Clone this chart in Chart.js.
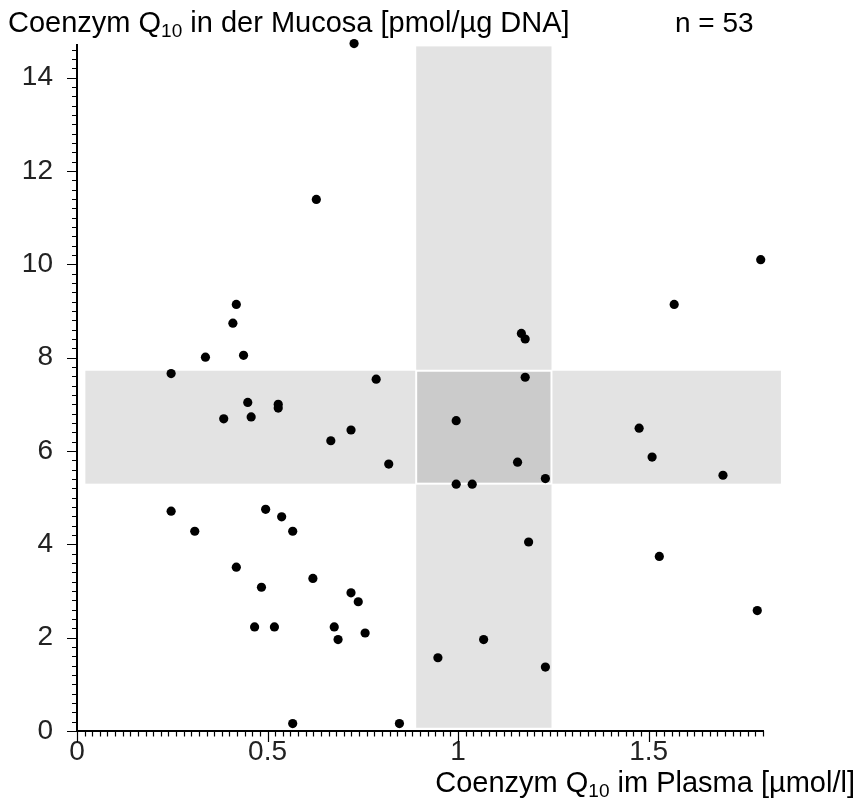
<!DOCTYPE html>
<html>
<head>
<meta charset="utf-8">
<script src="https://cdn.jsdelivr.net/npm/chart.js@4.4.1/dist/chart.umd.min.js"></script>
<style>
  html, body { margin: 0; padding: 0; background: #fff; }
  #wrap { width: 858px; height: 811px; position: relative; }
</style>
</head>
<body>
<div id="wrap"><canvas id="chart" width="858" height="811"></canvas></div>
<script>
// Coenzym Q10 im Plasma [µmol/l] (x) vs. in der Mucosa [pmol/µg DNA] (y)
const plasma = [
  0.727, 0.628, 0.418, 0.409, 0.337, 0.437, 0.247, 0.785,
  1.794, 1.567, 1.166, 1.176, 1.176,
  0.448, 0.528, 0.528, 0.385, 0.457, 0.719, 0.666, 0.818,
  0.247, 0.495, 0.537, 0.309, 0.566, 0.418, 0.619, 0.484,
  0.719, 0.738, 0.466, 0.518, 0.675, 0.756, 0.685, 0.566, 0.846,
  0.995, 1.156, 1.229, 0.995, 1.037, 1.475, 1.509, 1.695,
  1.185, 1.528, 1.785, 1.067, 0.947, 1.229
];
const mucosa = [
  14.73, 11.39, 9.14, 8.74, 8.01, 8.05, 7.66, 7.54,
  10.10, 9.14, 8.52, 8.40, 7.58,
  7.04, 7.00, 6.92, 6.69, 6.73, 6.45, 6.22, 5.72,
  4.71, 4.75, 4.59, 4.28, 4.28, 3.51, 3.27, 3.08,
  2.96, 2.77, 2.23, 2.23, 2.23, 2.10, 1.96, 0.16, 0.16,
  6.65, 5.76, 5.41, 5.29, 5.29, 6.49, 5.87, 5.48,
  4.05, 3.74, 2.58, 1.96, 1.57, 1.37
];
const nLabel = 'n = 53';

// reference ranges (shaded bands)
const plasmaRange = [0.89, 1.245];
const mucosaRange = [5.3, 7.72];

const FONT = '"Liberation Sans", Arial, Helvetica, sans-serif';

const points = plasma.map((x, i) => ({ x: x, y: mucosa[i] }));

function drawRich(ctx, parts, x, y, align) {
  let total = 0;
  parts.forEach(p => {
    ctx.font = (p[1] ? 19 : 29) + 'px ' + FONT;
    total += ctx.measureText(p[0]).width;
  });
  let cx = align === 'right' ? x - total : x;
  ctx.textAlign = 'left';
  ctx.textBaseline = 'alphabetic';
  parts.forEach(p => {
    ctx.font = (p[1] ? 19 : 29) + 'px ' + FONT;
    ctx.fillText(p[0], cx, p[1] ? y + 5 : y);
    cx += ctx.measureText(p[0]).width;
  });
}

const bandsPlugin = {
  id: 'bands',
  beforeDatasetsDraw(chart) {
    const { ctx, scales: { x, y } } = chart;
    const x0 = x.getPixelForValue(plasmaRange[0]), x1 = x.getPixelForValue(plasmaRange[1]);
    const y0 = y.getPixelForValue(mucosaRange[0]), y1 = y.getPixelForValue(mucosaRange[1]);
    ctx.save();
    ctx.fillStyle = '#e3e3e3';
    // horizontal band
    ctx.fillRect(x.getPixelForValue(0.022), y1, x.getPixelForValue(1.847) - x.getPixelForValue(0.022), y0 - y1);
    // vertical band
    ctx.fillRect(x0, y.getPixelForValue(14.67), x1 - x0, y.getPixelForValue(0.07) - y.getPixelForValue(14.67));
    // overlap
    ctx.fillStyle = '#cbcbcb';
    ctx.fillRect(x0, y1, x1 - x0, y0 - y1);
    ctx.strokeStyle = '#ffffff';
    ctx.lineWidth = 2;
    ctx.strokeRect(x0, y1, x1 - x0, y0 - y1);
    ctx.restore();
  }
};

const ticksPlugin = {
  id: 'axisTicks',
  afterDraw(chart) {
    const { ctx, scales: { x, y }, chartArea } = chart;
    ctx.save();
    ctx.strokeStyle = '#000';
    ctx.lineWidth = 1.2;
    ctx.beginPath();
    for (let i = 0; i <= 90; i++) {
      const v = i * 0.02;
      const px = Math.round(x.getPixelForValue(v)) + 0.5;
      const len = i % 25 === 0 ? 11 : 5.5;
      ctx.moveTo(px, chartArea.bottom);
      ctx.lineTo(px, chartArea.bottom + len);
    }
    for (let i = 0; i <= 73; i++) {
      const v = i * 0.2;
      const py = Math.round(y.getPixelForValue(v)) + 0.5;
      const len = i % 10 === 0 ? 10 : 5;
      ctx.moveTo(chartArea.left, py);
      ctx.lineTo(chartArea.left - len, py);
    }
    ctx.stroke();

    ctx.fillStyle = '#000';
    drawRich(ctx, [['Coenzym Q', false], ['10', true], [' in der Mucosa [pmol/\u00b5g DNA]', false]], 8, 32, 'left');
    ctx.font = '28px ' + FONT;
    ctx.fillText(nLabel, 675, 32);
    drawRich(ctx, [['Coenzym Q', false], ['10', true], [' im Plasma [\u00b5mol/l]', false]], 855, 792, 'right');
    ctx.restore();
  }
};

new Chart(document.getElementById('chart'), {
  type: 'scatter',
  data: {
    datasets: [{
      data: points,
      backgroundColor: '#000',
      borderWidth: 0,
      pointRadius: 4.6,
      pointHoverRadius: 4.6,
      clip: false
    }]
  },
  options: {
    responsive: false,
    animation: false,
    layout: { padding: { left: 0, top: 45, right: 95, bottom: 0 } },
    plugins: {
      legend: { display: false },
      tooltip: { enabled: false }
    },
    scales: {
      x: {
        type: 'linear',
        min: 0,
        max: 1.8,
        grid: { display: false, drawTicks: false },
        border: { display: true, color: '#000', width: 2 },
        ticks: {
          stepSize: 0.5,
          includeBounds: false,
          padding: 4,
          color: '#222',
          font: { family: FONT, size: 28 },
          callback: v => String(v)
        },
        afterFit(scale) { scale.height = 80; }
      },
      y: {
        type: 'linear',
        min: 0,
        max: 14.7,
        grid: { display: false, drawTicks: false },
        border: { display: true, color: '#000', width: 2 },
        ticks: {
          stepSize: 2,
          includeBounds: false,
          padding: 24,
          color: '#222',
          font: { family: FONT, size: 28 },
          callback: v => String(v)
        },
        afterFit(scale) { scale.width = 77; }
      }
    }
  },
  plugins: [bandsPlugin, ticksPlugin]
});
</script>
</body>
</html>
